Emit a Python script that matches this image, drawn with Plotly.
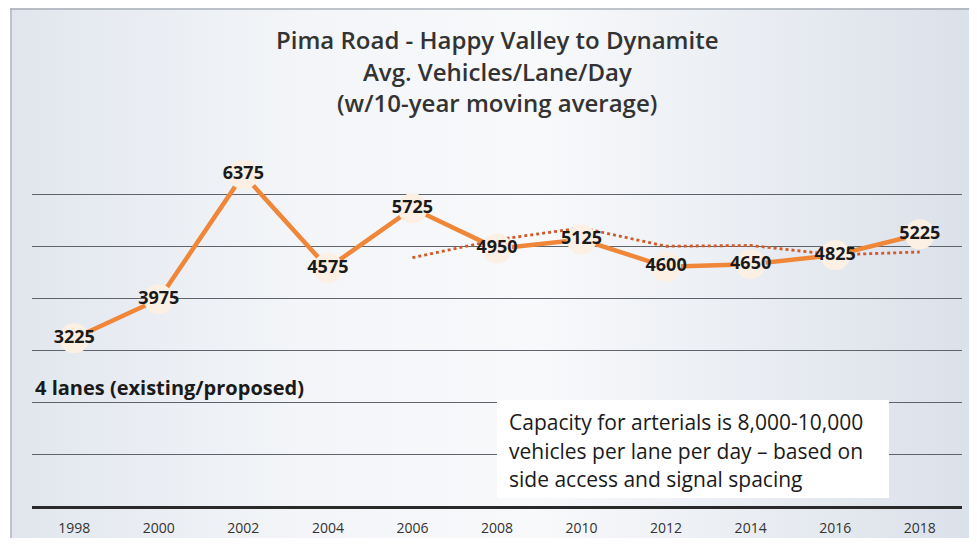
import plotly.graph_objects as go

years = [1998, 2000, 2002, 2004, 2006, 2008, 2010, 2012, 2014, 2016, 2018]
vehicles = [3225, 3975, 6375, 4575, 5725, 4950, 5125, 4600, 4650, 4825, 5225]
ma_years = [2006, 2008, 2010, 2012, 2014, 2016, 2018]
ma_values = [4775, 5120, 5350, 4995, 5010, 4830, 4885]
tick_labels = [str(y) for y in years]
grid_vals = [1000, 2000, 3000, 4000, 5000, 6000]

# page body has an 8px margin: figure is drawn 8px in from the window corner
OFF = 8
W, H = 977 - 2 * OFF, 546 - 2 * OFF
def px(x):
    return (x - OFF) / W
def py(y):
    return (H - (y - OFF)) / H

fig = go.Figure()

# background gradient (scan look) on full-paper subplot
fig.add_trace(go.Scatter(
    x=[0, 1, 1, 0, 0], y=[0, 0, 1, 1, 0], mode="lines", fill="toself",
    line=dict(width=0),
    fillgradient=dict(type="horizontal",
                      colorscale=[[0, "#e1e6ee"], [0.3, "#f3f5f8"], [0.55, "#f8f9fb"], [1, "#dbe1ea"]]),
    hoverinfo="skip", showlegend=False, xaxis="x", yaxis="y"))

fig.add_trace(go.Scatter(
    x=ma_years, y=ma_values, mode="lines",
    line=dict(color="#d05a2a", width=2.8, dash="dot"),
    hoverinfo="skip", showlegend=False, xaxis="x2", yaxis="y2"))

fig.add_trace(go.Scatter(
    x=years, y=vehicles, mode="lines+markers+text",
    line=dict(color="#ef8638", width=4.5),
    marker=dict(size=30, color="#fcefe3", line=dict(width=0)),
    text=[str(v) for v in vehicles], textposition="middle center",
    textfont=dict(family="Open Sans", size=18, color="#1a1a1a", weight="bold"),
    cliponaxis=False, showlegend=False, xaxis="x2", yaxis="y2"))

title_font = dict(family="Open Sans", size=24, color="#333333", weight=600)
box_font = dict(family="Open Sans", size=21, color="#1a1a1a")

fig.update_layout(
    width=W, height=H,
    margin=dict(l=0, r=0, t=0, b=0),
    paper_bgcolor="white", plot_bgcolor="rgba(0,0,0,0)",
    xaxis=dict(domain=[max(px(10), 0), 1], range=[0, 1], visible=False, fixedrange=True),
    yaxis=dict(domain=[0, min(py(8), 1)], range=[0, 1], visible=False, fixedrange=True),
    xaxis2=dict(domain=[px(32), px(962)], anchor="y2", range=[1997, 2019],
                tickvals=years, ticktext=tick_labels, showgrid=False, zeroline=False,
                showline=True, linecolor="#2a2a2a", linewidth=3, ticks="",
                ticklabelstandoff=7,
                tickfont=dict(family="Open Sans", size=14, color="#333333")),
    yaxis2=dict(domain=[py(506), py(142)], anchor="x2", range=[0, 7000],
                tickvals=grid_vals, showticklabels=False, showgrid=True,
                gridcolor="#5f646b", gridwidth=1.2, zeroline=False, showline=False, ticks=""),
    shapes=[
        dict(type="line", xref="paper", yref="paper", x0=px(10), x1=1, y0=py(9), y1=py(9),
             line=dict(color="#8a929c", width=1)),
        dict(type="line", xref="paper", yref="paper", x0=px(11), x1=px(11), y0=0, y1=py(9),
             line=dict(color="#9aa1aa", width=1)),
        dict(type="rect", xref="paper", yref="paper", x0=px(497), x1=px(889),
             y0=py(498), y1=py(400), fillcolor="white", line=dict(width=0), layer="above"),
    ],
    annotations=[
        dict(text="Pima Road - Happy Valley to Dynamite", xref="paper", yref="paper",
             x=px(497), y=py(40), xanchor="center", yanchor="middle", showarrow=False,
             font=title_font),
        dict(text="Avg. Vehicles/Lane/Day", xref="paper", yref="paper",
             x=px(497), y=py(72), xanchor="center", yanchor="middle", showarrow=False,
             font=title_font),
        dict(text="(w/10-year moving average)", xref="paper", yref="paper",
             x=px(497), y=py(103), xanchor="center", yanchor="middle", showarrow=False,
             font=title_font),
        dict(text="4 lanes (existing/proposed)", xref="paper", yref="paper",
             x=px(33), y=py(387), xanchor="left", yanchor="middle", showarrow=False,
             font=dict(family="Open Sans", size=20, color="#1a1a1a", weight="bold")),
        dict(text="Capacity for arterials is 8,000-10,000", xref="paper", yref="paper",
             x=px(507), y=py(422), xanchor="left", yanchor="middle", showarrow=False, font=box_font),
        dict(text="vehicles per lane per day \u2013 based on", xref="paper", yref="paper",
             x=px(507), y=py(451), xanchor="left", yanchor="middle", showarrow=False, font=box_font),
        dict(text="side access and signal spacing", xref="paper", yref="paper",
             x=px(507), y=py(479), xanchor="left", yanchor="middle", showarrow=False, font=box_font),
    ],
)

fig.write_html("out.html")
